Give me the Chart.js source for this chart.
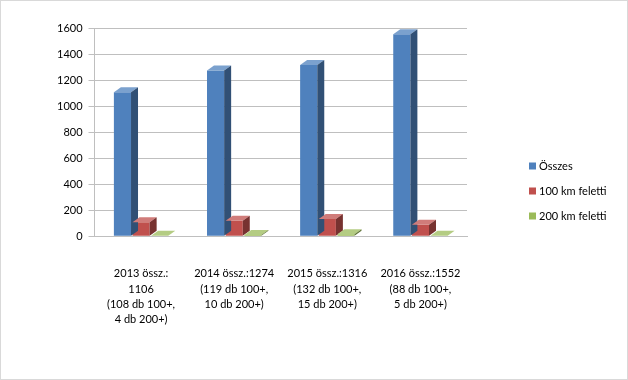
<!DOCTYPE html>
<html><head><meta charset="utf-8">
<script src="https://cdn.jsdelivr.net/npm/chart.js@4"></script>
<style>
html,body{margin:0;padding:0;background:#fff;}
#wrap{position:relative;width:626px;height:378px;border:1px solid #d9d9d9;}
</style></head><body>
<div id="wrap"><canvas id="c" width="626" height="378"></canvas></div>
<script>
const categories = [
  ["2013 össz.:", "1106", "(108 db 100+,", "4 db 200+)"],
  ["2014 össz.:1274", "(119 db 100+,", "10 db 200+)"],
  ["2015 össz.:1316", "(132 db 100+,", "15 db 200+)"],
  ["2016 össz.:1552", "(88 db 100+,", "5 db 200+)"]
];
const osszes = [1106, 1274, 1316, 1552];
const felett100 = [108, 119, 132, 88];
const felett200 = [4, 10, 15, 5];
const yTicks = [0, 200, 400, 600, 800, 1000, 1200, 1400, 1600];

function shade(hex, f){
  const n = parseInt(hex.slice(1),16);
  let r=(n>>16)&255,g=(n>>8)&255,b=n&255;
  const c=v=>Math.max(0,Math.min(255,Math.round(f>1? v+(255-v)*(f-1): v*f)));
  return `rgb(${c(r)},${c(g)},${c(b)})`;
}
const depth = {dx: 7, dy: -5};
const bar3d = {
  id:'bar3d',
  afterDatasetsDraw(chart){
    const ctx = chart.ctx;
    chart.data.datasets.forEach((ds, di)=>{
      const meta = chart.getDatasetMeta(di);
      meta.data.forEach(bar=>{
        const w = bar.width, x0 = bar.x - w/2, x1 = bar.x + w/2, top = bar.y, bot = bar.base;
        ctx.save();
        ctx.fillStyle = shade(ds.backgroundColor, 1.25);
        ctx.beginPath();
        ctx.moveTo(x0, top); ctx.lineTo(x0+depth.dx, top+depth.dy);
        ctx.lineTo(x1+depth.dx, top+depth.dy); ctx.lineTo(x1, top); ctx.closePath(); ctx.fill();
        ctx.fillStyle = shade(ds.backgroundColor, 0.62);
        ctx.beginPath();
        ctx.moveTo(x1, top); ctx.lineTo(x1+depth.dx, top+depth.dy);
        ctx.lineTo(x1+depth.dx, bot+depth.dy); ctx.lineTo(x1, bot); ctx.closePath(); ctx.fill();
        ctx.restore();
      });
    });
  }
};
const sideLegend = {
  id:'sideLegend',
  afterDraw(chart){
    const ctx = chart.ctx;
    ctx.save();
    ctx.font = "11px Lato, 'Open Sans', sans-serif";
    ctx.textBaseline = 'middle';
    chart.data.datasets.forEach((ds,i)=>{
      const y = 165 + i*25;
      ctx.fillStyle = ds.backgroundColor;
      ctx.fillRect(528, y-3.5, 7, 7);
      ctx.fillStyle = '#000';
      ctx.fillText(ds.label, 538, y);
    });
    ctx.restore();
  }
};
Chart.defaults.font.family = "Lato, 'Open Sans', sans-serif";
Chart.defaults.font.size = 11;
Chart.defaults.color = '#000';
new Chart(document.getElementById('c'), {
  type:'bar',
  data:{
    labels: categories,
    datasets:[
      {label:'Összes', data: osszes, backgroundColor:'#4F81BD'},
      {label:'100 km feletti', data: felett100, backgroundColor:'#C0504D'},
      {label:'200 km feletti', data: felett200, backgroundColor:'#9BBB59'}
    ]
  },
  options:{
    responsive:false, animation:false,
    layout:{padding:{top:27,left:50,right:160,bottom:30}},
    datasets:{bar:{categoryPercentage:0.6, barPercentage:0.92}},
    plugins:{ legend:{display:false}, tooltip:{enabled:false} },
    scales:{
      x:{grid:{display:false}, border:{color:'#bfbfbf'},
        ticks:{maxRotation:0, autoSkip:false, padding:22, font:{size:11, lineHeight:1.38}}},
      y:{min:0, max:1600, afterBuildTicks(ax){ax.ticks = yTicks.map(v=>({value:v}));},
        grid:{color:'#bfbfbf', tickLength:6}, border:{color:'#bfbfbf'},
        ticks:{padding:6, font:{size:11}, callback:v=>String(v)}}
    }
  },
  plugins:[bar3d, sideLegend]
});
</script></body></html>
